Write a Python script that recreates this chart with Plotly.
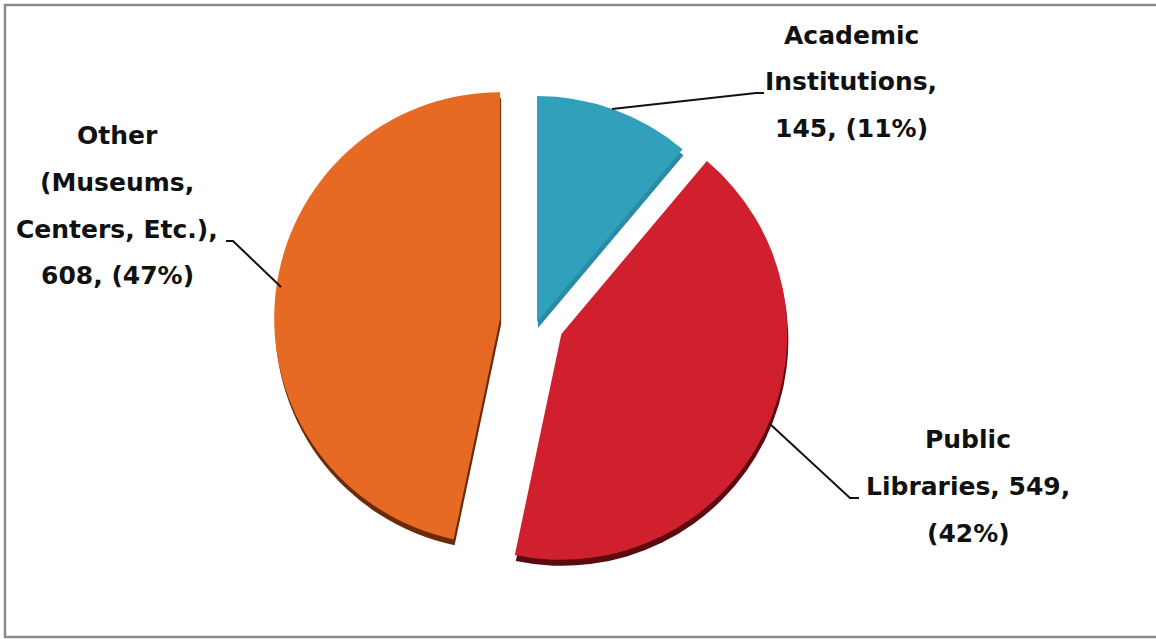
import plotly.graph_objects as go

# Slice data (clockwise from 12 o'clock)
categories = ["Academic Institutions", "Public Libraries", "Other (Museums, Centers, Etc.)"]
counts = [145, 549, 608]
percents = [11, 42, 47]
pulls = [0.0, 0.12, 0.164]

face_colors = ["#31a0bb", "#d0202d", "#e66a24"]
side_colors = ["#2a8ca4", "#5c0a12", "#6a2c08"]

W, H = 1156, 639


def px(x):
    return x / W


def py(y):
    return 1 - y / H


# pie box (pixels): centre and half size
cx, cy, half = 537, 322, 263
depth = 6  # thickness of the 3D rim

dom_x = [px(cx - half), px(cx + half)]
dom_y = [py(cy + half), py(cy - half)]
dom_y_side = [py(cy + half + depth), py(cy - half + depth)]

fig = go.Figure()

# darker copy slightly below gives the slice edges some depth
fig.add_trace(go.Pie(
    labels=categories, values=counts, pull=pulls, sort=False,
    direction="clockwise", rotation=0, textinfo="none", hoverinfo="skip",
    marker=dict(colors=side_colors, line=dict(width=0)),
    domain=dict(x=[px(cx - half + 1), px(cx + half + 1)], y=dom_y_side), showlegend=False,
))
fig.add_trace(go.Pie(
    labels=categories, values=counts, pull=pulls, sort=False,
    direction="clockwise", rotation=0, textinfo="none",
    marker=dict(colors=face_colors, line=dict(width=0)),
    domain=dict(x=dom_x, y=dom_y), showlegend=False,
))

# Data labels, one annotation per line for the wide line spacing
label_lines = [
    ["Academic", "Institutions,", f"{counts[0]}, ({percents[0]}%)"],
    ["Public", f"Libraries, {counts[1]},", f"({percents[1]}%)"],
    ["Other", "(Museums,", "Centers, Etc.),", f"{counts[2]}, ({percents[2]}%)"],
]
label_centres = [(851, 35), (968, 440), (117, 136)]
line_gap = 46.5

annotations = []
for lines, (lx, ly) in zip(label_lines, label_centres):
    for i, t in enumerate(lines):
        annotations.append(dict(
            x=px(lx), y=py(ly + i * line_gap), xref="paper", yref="paper",
            text=t, showarrow=False, xanchor="center", yanchor="middle",
            font=dict(family="DejaVu Sans", size=25, color="#111111", weight="bold"),
        ))

# leader lines from labels to slices
leaders = [
    [(612, 109), (756, 93), (764, 93)],
    [(770, 424), (850, 498), (859, 498)],
    [(226, 241), (233, 241), (281, 287)],
]
shapes = []
for pts in leaders:
    path = "M " + " L ".join(f"{px(x):.5f},{py(y):.5f}" for x, y in pts)
    shapes.append(dict(type="path", xref="paper", yref="paper", path=path,
                       line=dict(color="#111111", width=2)))

# chart frame
shapes.append(dict(type="rect", xref="paper", yref="paper",
                   x0=px(5), y0=py(637), x1=1.02, y1=py(5),
                   line=dict(color="#8c8c8c", width=2.5)))

fig.update_layout(
    width=W, height=H,
    margin=dict(l=0, r=0, t=0, b=0),
    paper_bgcolor="white", plot_bgcolor="white",
    annotations=annotations, shapes=shapes,
)

fig.write_html("out.html")
